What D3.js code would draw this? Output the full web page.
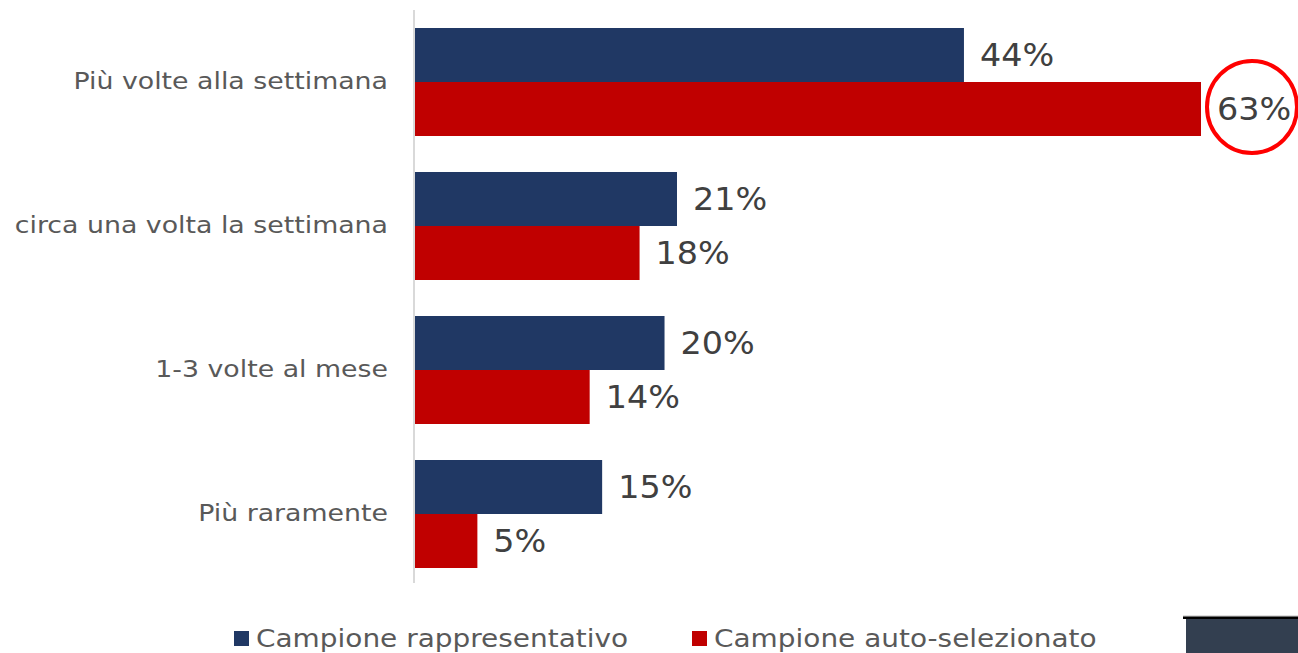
<!DOCTYPE html>
<html><head><meta charset="utf-8">
<script src="https://cdn.jsdelivr.net/npm/d3@7"></script>
<style>html,body{margin:0;padding:0;background:#fff;}svg{display:block;}</style>
</head><body>
<svg id="c" width="1298" height="653"></svg>
<script>
const categories = ["Più volte alla settimana","circa una volta la settimana","1-3 volte al mese","Più raramente"];
const seriesNames = ["Campione rappresentativo","Campione auto-selezionato"];
const rappresentativo = [44,21,20,15];
const autoSelezionato = [63,18,14,5];
const colors = ["#203864","#c00000"];

const svg = d3.select("#c");
const font = "'DejaVu Sans', Verdana, sans-serif";
// widen DejaVu glyphs to mimic Verdana metrics
function widen(sel, f){
  sel.each(function(){
    const w = this.getComputedTextLength();
    d3.select(this).attr("textLength", w*f).attr("lengthAdjust","spacingAndGlyphs");
  });
}
const x0 = 415;
const x = d3.scaleLinear().domain([0,63]).range([x0, 1201]);
const y = d3.scaleBand().domain(categories).range([10,586]).paddingInner(0.25).paddingOuter(0.125);
const sub = d3.scaleBand().domain([0,1]).range([0,y.bandwidth()]);

const data = categories.map((c,i)=>({c, v:[rappresentativo[i], autoSelezionato[i]]}));

const g = svg.append("g");
data.forEach(d=>{
  d.v.forEach((v,j)=>{
    g.append("rect").attr("x",x(0)).attr("y",y(d.c)+sub(j))
      .attr("width",x(v)-x(0)).attr("height",sub.bandwidth()).attr("fill",colors[j]);
    g.append("text").attr("class","val").attr("x",x(v)+16).attr("y",y(d.c)+sub(j)+sub.bandwidth()/2)
      .attr("dy","0.36em").attr("font-family",font).attr("font-size",31.5)
      .attr("fill","#404040")
      .text(v+"%");
  });
});
widen(g.selectAll("text.val"), 1.06);

// axis
const axis = d3.axisLeft(y).tickSize(0).tickPadding(26);
const ag = svg.append("g").attr("transform",`translate(${x0-1},0)`).call(axis);
ag.select(".domain").attr("stroke","#d9d9d9").attr("stroke-width",2).attr("d","M0,10V583");
ag.selectAll("text").attr("font-family",font).attr("font-size",22.5).attr("fill","#595959");
widen(ag.selectAll("text"), 1.19);

// highlight circle
svg.append("ellipse").attr("cx",x(63)+51).attr("cy",y(categories[0])+sub(1)+sub.bandwidth()/2-2)
  .attr("rx",45).attr("ry",46).attr("fill","none").attr("stroke","#ff0000").attr("stroke-width",4);

// legend
const legX = [234, 692];
seriesNames.forEach((n,i)=>{
  svg.append("rect").attr("x",legX[i]).attr("y",631).attr("width",15).attr("height",15).attr("fill",colors[i]);
  svg.append("text").attr("class","leg").attr("x",legX[i]+22).attr("y",647).attr("font-family",font).attr("font-size",24.5)
    .attr("fill","#595959").text(n);
});
widen(svg.selectAll("text.leg"), 1.14);

// bottom-right decoration
svg.append("rect").attr("x",1183).attr("y",615.5).attr("width",115).attr("height",1).attr("fill","#bfbfbf");
svg.append("rect").attr("x",1183).attr("y",616.5).attr("width",115).attr("height",2.5).attr("fill","#000");
svg.append("rect").attr("x",1186).attr("y",619).attr("width",112).attr("height",34).attr("fill","#333f50");
</script>
</body></html>
